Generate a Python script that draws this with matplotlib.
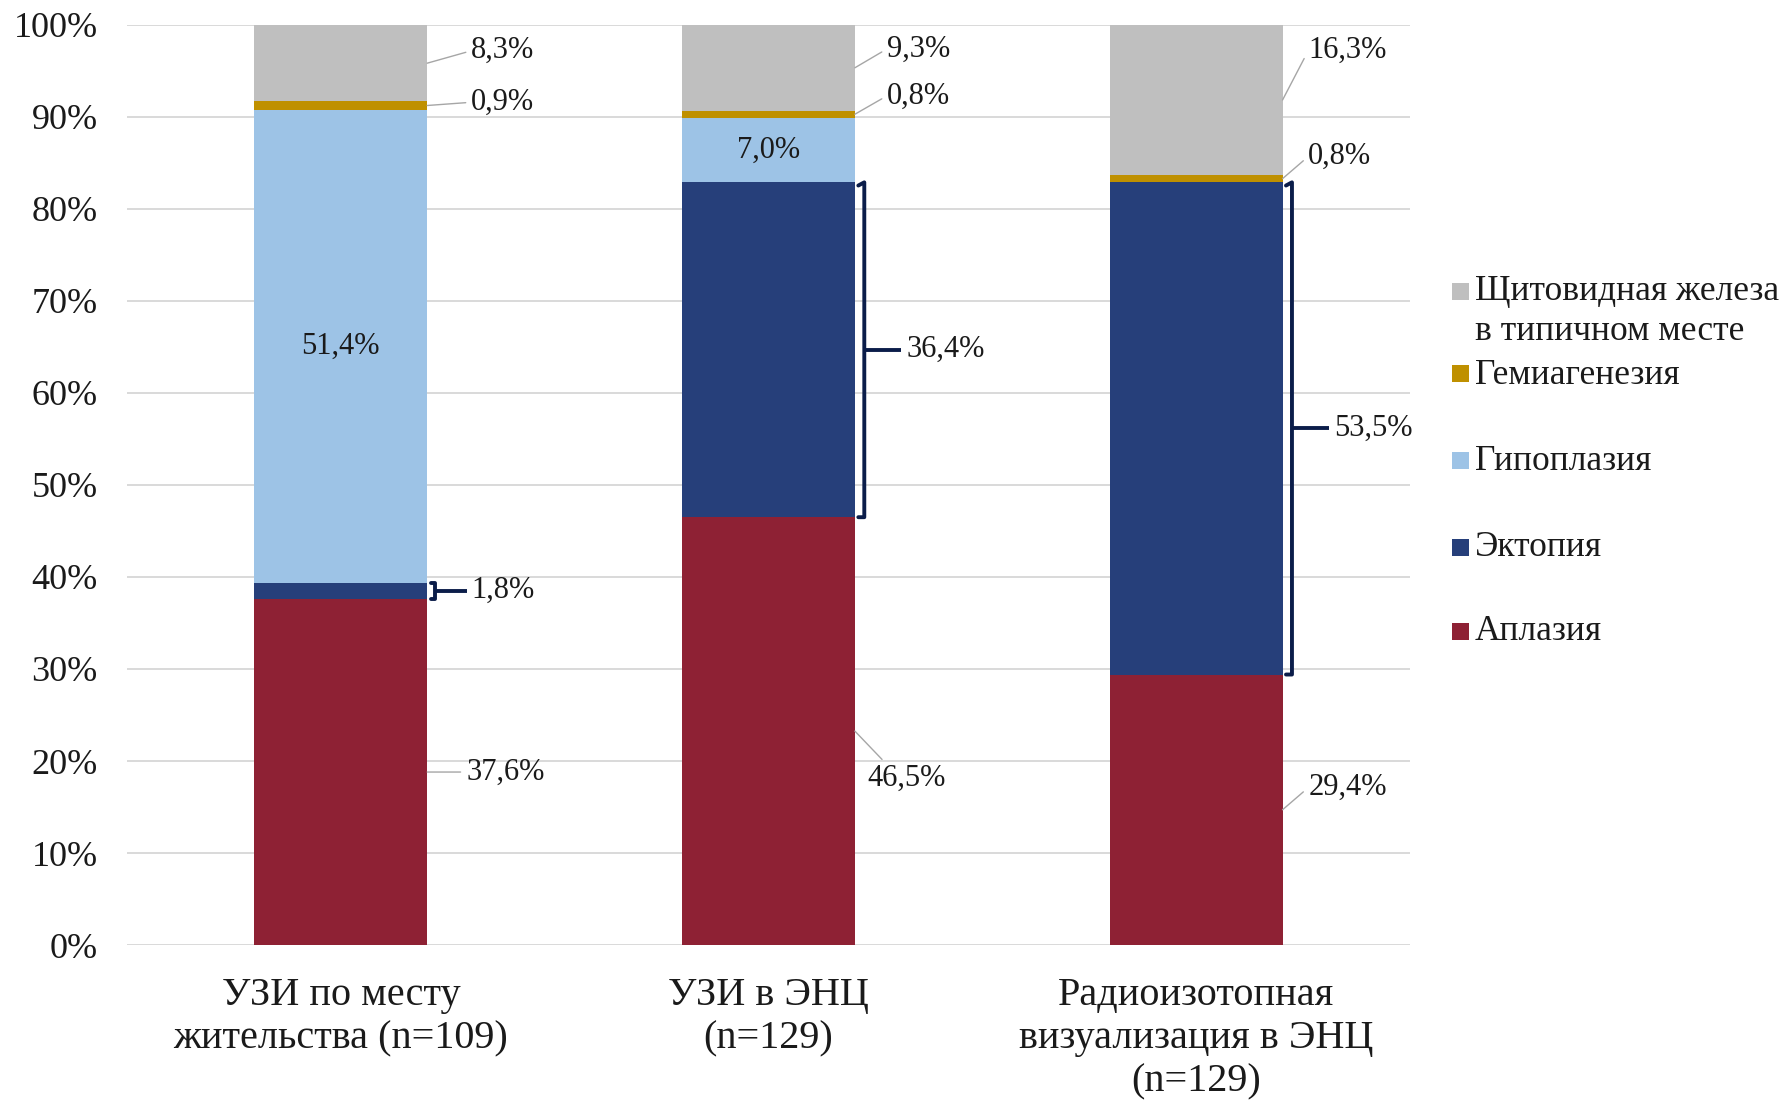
import matplotlib
matplotlib.use("Agg")
import matplotlib.pyplot as plt
from matplotlib.patches import Rectangle

plt.rcParams["font.family"] = ["Liberation Serif", "DejaVu Serif"]

# ---- data -------------------------------------------------------------
categories = [
    "УЗИ по месту\nжительства (n=109)",
    "УЗИ в ЭНЦ\n(n=129)",
    "Радиоизотопная\nвизуализация в ЭНЦ\n(n=129)",
]
aplasia = [37.6, 46.5, 29.4]
ectopia = [1.8, 36.4, 53.5]
hypoplasia = [51.4, 7.0, 0.0]
hemiagenesis = [0.9, 0.8, 0.8]
normal_site = [8.3, 9.3, 16.3]

series_names = ["Аплазия", "Эктопия", "Гипоплазия", "Гемиагенезия",
                "Щитовидная железа\nв типичном месте"]
series_values = [aplasia, ectopia, hypoplasia, hemiagenesis, normal_site]
series_colors = ["#8E2134", "#263F7A", "#9DC3E6", "#BF9000", "#BFBFBF"]

yticks = list(range(0, 101, 10))
ytick_labels = [f"{t}%" for t in yticks]

# ---- label placement (per category, per series) ------------------------
# mode: 'in' centred in segment, 'lead' leader line, 'br' bracket
# (mode, text dx from bar centre, text dy from segment centre, ha, va)
placement = {
    (0, 4): ("lead", 0.305, 1.35, "left", "center"),
    (0, 3): ("lead", 0.305, 0.35, "left", "center"),
    (0, 2): ("in", 0, 0, "center", "center"),
    (0, 1): ("br", 0.306, 0, "left", "center"),
    (0, 0): ("lead", 0.293, 0.0, "left", "center"),
    (1, 4): ("lead", 0.277, 2.05, "left", "center"),
    (1, 3): ("lead", 0.277, 2.0, "left", "center"),
    (1, 2): ("in", 0, 0, "center", "center"),
    (1, 1): ("br", 0.322, 0, "left", "center"),
    (1, 0): ("lead", 0.322, -3.6, "center", "top"),
    (2, 4): ("lead", 0.262, 5.35, "left", "center"),
    (2, 3): ("lead", 0.262, 2.4, "left", "center"),
    (2, 1): ("br", 0.322, 0, "left", "center"),
    (2, 0): ("lead", 0.262, 2.4, "left", "center"),
}

W, H, DPI = 1783, 1109, 100
fig = plt.figure(figsize=(W / DPI, H / DPI), dpi=DPI)
ax = fig.add_axes([127 / W, 1 - 945 / H, (1410 - 127) / W, (945 - 25) / H])

x = list(range(len(categories)))
bar_w = 0.404
half = bar_w / 2
text_color = "#1A1A1A"
bracket_color = "#0B1D4A"
label_size = 22

bottoms = [0.0] * len(categories)
for name, vals, col in zip(series_names, series_values, series_colors):
    ax.bar(x, vals, width=bar_w, bottom=bottoms, color=col, zorder=2,
           linewidth=0)
    bottoms = [b + v for b, v in zip(bottoms, vals)]


def fmt(v):
    return f"{v:.1f}%".replace(".", ",")


# data labels
for j in x:
    base = 0.0
    for i, vals in enumerate(series_values):
        v = vals[j]
        lo, hi = base, base + v
        base = hi
        spec = placement.get((j, i))
        if spec is None or v == 0:
            continue
        mode, dx, dy, ha, va = spec
        mid = (lo + hi) / 2
        if mode == "in":
            ax.text(j, mid, fmt(v), ha="center", va="center",
                    fontsize=label_size, color=text_color, zorder=4)
        elif mode == "lead":
            rel = (0, 0.5) if ha == "left" else (0.25, 1.0)
            ax.annotate(fmt(v), xy=(j + half, mid), xytext=(j + dx, mid + dy),
                        ha=ha, va=va, fontsize=label_size, color=text_color,
                        arrowprops=dict(arrowstyle="-", color="#A6A6A6",
                                        lw=1.0, shrinkA=2, shrinkB=0,
                                        relpos=rel),
                        zorder=4)
        elif mode == "br":
            xe = j + half + 0.008
            xb = j + half + (0.022 if v > 5 else 0.018)
            xt = j + dx - 0.012
            cap = 0.35 if v > 5 else 0.0
            ax.plot([xe, xb, xb, xe], [hi - cap, hi, lo, lo],
                    color=bracket_color, lw=2.8, solid_joinstyle="round",
                    solid_capstyle="round", zorder=3, clip_on=False)
            ax.plot([xb, xt], [mid, mid], color=bracket_color, lw=2.8,
                    solid_capstyle="butt", zorder=3, clip_on=False)
            ax.text(j + dx, mid, fmt(v), ha=ha, va=va, fontsize=label_size,
                    color=text_color, zorder=4)

# axes styling
ax.set_xlim(-0.5, 2.5)
ax.set_ylim(0, 100)
ax.set_yticks(yticks)
ax.set_yticklabels(ytick_labels, fontsize=26, color=text_color)
ax.set_xticks(x)
ax.set_xticklabels(categories, fontsize=29, color=text_color,
                   linespacing=1.22)
ax.tick_params(axis="both", length=0)
ax.tick_params(axis="x", pad=23)
ax.tick_params(axis="y", pad=21)
ax.grid(axis="y", color="#D9D9D9", lw=1.4, zorder=0)
ax.set_axisbelow(True)
for s in ax.spines.values():
    s.set_visible(False)

# legend
legend_rows = [
    ("Щитовидная железа", 292, 4, True),
    ("в типичном месте", 332, None, False),
    ("Гемиагенезия", 375, 3, True),
    ("Гипоплазия", 461, 2, True),
    ("Эктопия", 548, 1, True),
    ("Аплазия", 632, 0, True),
]
sq = 17
for label, yc, idx, has_box in legend_rows:
    fig.text(1475 / W, 1 - yc / H, label, ha="left", va="center",
             fontsize=25.5, color=text_color)
    if has_box:
        fig.patches.append(Rectangle((1452 / W, 1 - (yc + sq / 2 - 1) / H),
                                     sq / W, sq / H,
                                     transform=fig.transFigure,
                                     facecolor=series_colors[idx],
                                     edgecolor="none"))

fig.savefig("out.png", dpi=DPI)
